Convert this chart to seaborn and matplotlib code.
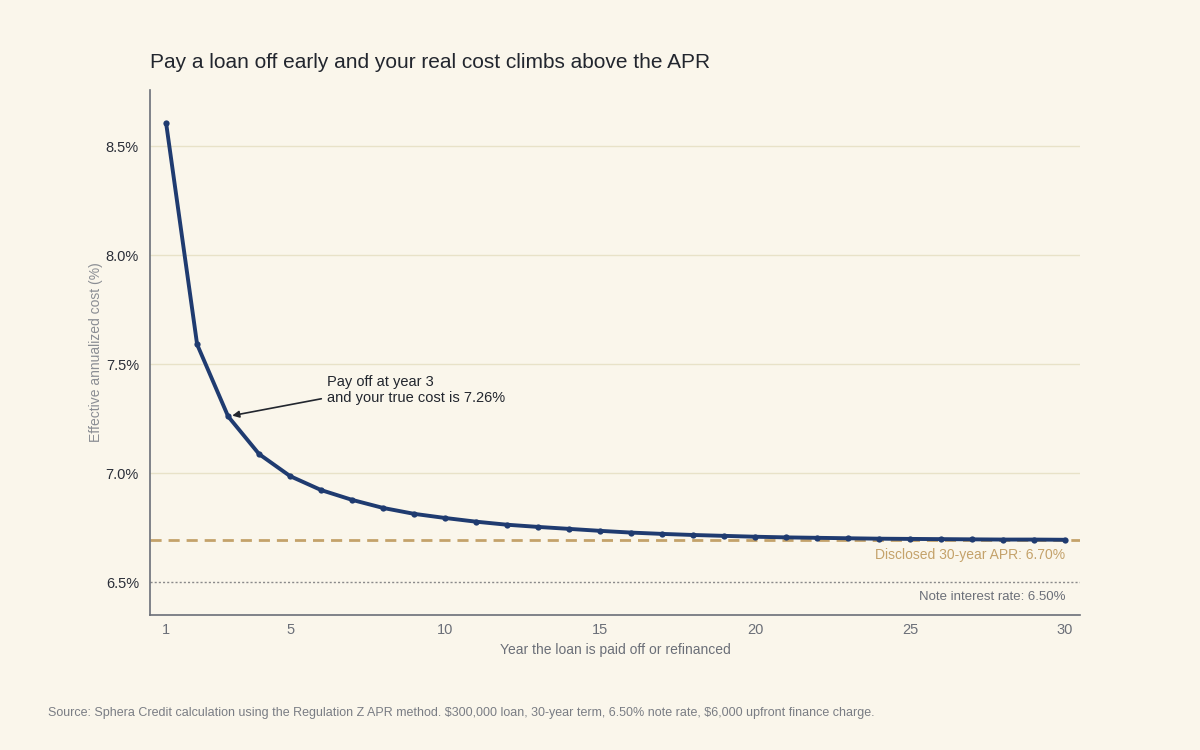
import numpy as np
import pandas as pd
import matplotlib
matplotlib.use("Agg")
import matplotlib.pyplot as plt
import seaborn as sns

# data
years = list(range(1, 31))
effective_cost = [8.605, 7.59, 7.26, 7.087, 6.986, 6.922, 6.877, 6.840, 6.813, 6.794,
                  6.777, 6.763, 6.753, 6.744, 6.735, 6.727, 6.721, 6.716, 6.712, 6.708,
                  6.705, 6.703, 6.701, 6.699, 6.698, 6.697, 6.696, 6.695, 6.695, 6.694]
apr_rate = 6.694
note_rate = 6.50
x_ticks = [1, 5, 10, 15, 20, 25, 30]
y_ticks = [6.5, 7.0, 7.5, 8.0, 8.5]

df = pd.DataFrame({"year": years, "cost": effective_cost})

bg = "#faf6eb"
navy = "#1f3b70"
gold = "#c4a26a"
grey = "#6b6f78"

sns.set_theme(style="white")
plt.rcParams["font.family"] = ["Liberation Sans", "DejaVu Sans"]

fig = plt.figure(figsize=(12, 7.5), dpi=100, facecolor=bg)
ax = fig.add_axes([0.125, 0.18, 0.775, 0.70], facecolor=bg)

for y in y_ticks[1:]:
    ax.axhline(y, color="#e8e2c8", lw=1, zorder=0)

ax.axhline(note_rate, color="#8a8a8a", lw=1, ls=(0, (1.5, 1.5)), zorder=1)
ax.axhline(apr_rate, color=gold, lw=2, ls=(0, (4, 2.5)), zorder=1)

sns.lineplot(data=df, x="year", y="cost", ax=ax, color=navy, lw=2.8,
             marker="o", markersize=4.5, markeredgewidth=0, zorder=3)

ax.set_xlim(0.48, 30.48)
ax.set_ylim(6.349, 8.757)
ax.set_xticks(x_ticks)
ax.set_yticks(y_ticks)
ax.set_yticklabels([f"{v:.1f}%" for v in y_ticks])
ax.tick_params(axis="x", colors=grey, labelsize=10.5, length=0, pad=6)
ax.tick_params(axis="y", colors="#2a2e38", labelsize=10.5, length=0, pad=8)

for s in ["top", "right"]:
    ax.spines[s].set_visible(False)
for s in ["left", "bottom"]:
    ax.spines[s].set_color("#6b6f78")
    ax.spines[s].set_linewidth(1.2)

ax.set_xlabel("Year the loan is paid off or refinanced", color=grey, fontsize=10, labelpad=4)
ax.set_ylabel("Effective annualized cost (%)", color="#8a8d93", fontsize=10, labelpad=2)

ax.annotate("Pay off at year 3\nand your true cost is 7.26%", xy=(3, 7.26),
            xytext=(6.2, 7.38), fontsize=10.5, color="#22262e", va="center",
            linespacing=1.15,
            arrowprops=dict(arrowstyle="-|>", color="#22262e", lw=1.2,
                            shrinkA=2, shrinkB=3, mutation_scale=10,
                            relpos=(0, 0.25)))

ax.text(30, apr_rate - 0.038, "Disclosed 30-year APR: 6.70%", color=gold,
        fontsize=10, ha="right", va="top")
ax.text(30, note_rate - 0.04, "Note interest rate: 6.50%", color=grey,
        fontsize=9.5, ha="right", va="top")

fig.text(0.125, 0.909, "Pay a loan off early and your real cost climbs above the APR",
         fontsize=15, color="#22262e", ha="left", va="baseline")
fig.text(0.04, 0.049, "Source: Sphera Credit calculation using the Regulation Z APR method. "
         "\\$300,000 loan, 30-year term, 6.50% note rate, \\$6,000 upfront finance charge.",
         fontsize=9, color="#7a7d84", ha="left", va="center")

fig.savefig("out.png", dpi=100, facecolor=bg)
